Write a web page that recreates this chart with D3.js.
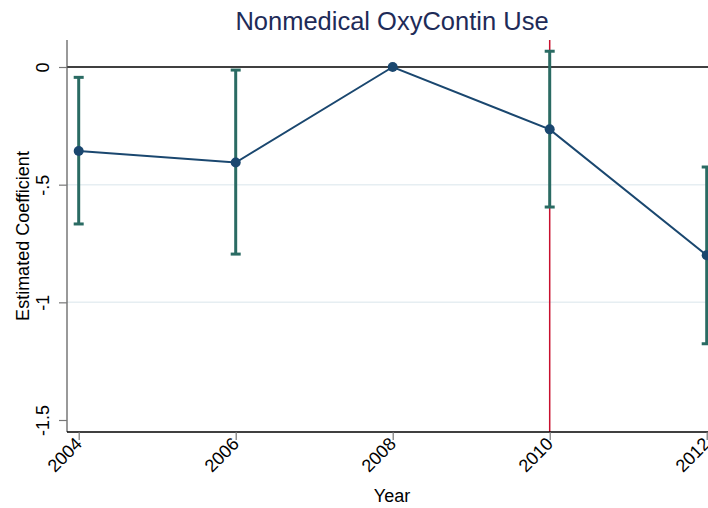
<!DOCTYPE html>
<html>
<head>
<meta charset="utf-8">
<script src="https://cdn.jsdelivr.net/npm/d3@7"></script>
<style>
  body { margin: 0; background: #fff; }
  svg { display: block; font-family: "Liberation Sans", Arial, sans-serif; }
</style>
</head>
<body>
<script>
let years = [2004, 2006, 2008, 2010, 2012];
let coef = [-0.357, -0.406, 0, -0.265, -0.80];
let ciLow = [-0.667, -0.795, 0, -0.595, -1.176];
let ciHigh = [-0.044, -0.013, 0, 0.067, -0.425];
let yTicks = [0, -0.5, -1, -1.5];
let yTickLabels = ['0', '-.5', '-1', '-1.5'];
let eventYear = 2010;

let W = 708, H = 508;
let plotLeft = 67, plotTop = 40, plotBottom = 432;

let svg = d3.select('body').append('svg')
  .attr('width', W)
  .attr('height', H)

let x = d3.scaleLinear().domain([2004, 2012]).range([78.7, 706.7])
let y = d3.scaleLinear().domain([0, -1.5]).range([67, 420])

// gridlines
svg.append('g')
  .selectAll('line')
  .data([-0.5, -1])
  .join('line')
  .attr('x1', plotLeft).attr('x2', W)
  .attr('y1', d => y(d)).attr('y2', d => y(d))
  .attr('stroke', '#e6eef2')
  .attr('stroke-width', 1.5)

// zero line
svg.append('line')
  .attr('x1', plotLeft).attr('x2', W)
  .attr('y1', y(0)).attr('y2', y(0))
  .attr('stroke', '#000')
  .attr('stroke-width', 1.5)

// event line
svg.append('line')
  .attr('x1', x(eventYear)).attr('x2', x(eventYear))
  .attr('y1', plotTop).attr('y2', plotBottom)
  .attr('stroke', '#c8102e')
  .attr('stroke-width', 1.5)

// axes
let yAxis = svg.append('g')
  .attr('transform', 'translate(' + plotLeft + ',0)')
  .call(d3.axisLeft(y).tickValues(yTicks).tickSize(8).tickFormat((d, i) => yTickLabels[i]))
yAxis.select('.domain').attr('d', 'M0,' + plotTop + 'V' + plotBottom).attr('stroke', '#555').attr('stroke-width', 1.2)
yAxis.selectAll('.tick line').attr('stroke', '#777').attr('stroke-width', 1.2)
yAxis.selectAll('.tick text')
  .attr('font-size', 18)
  .attr('fill', '#000')
  .attr('text-anchor', 'middle')
  .attr('transform', 'translate(-18,0) rotate(-90)')
  .attr('x', 0).attr('dy', 0).attr('y', 0)

let xAxis = svg.append('g')
  .attr('transform', 'translate(0,' + plotBottom + ')')
  .call(d3.axisBottom(x).tickValues(years).tickSize(8).tickFormat(d3.format('d')))
xAxis.select('.domain').attr('d', 'M' + plotLeft + ',0H' + W).attr('stroke', '#000').attr('stroke-width', 1.5)
xAxis.selectAll('.tick line').attr('stroke', '#777').attr('stroke-width', 1.2)
xAxis.selectAll('.tick text')
  .attr('font-size', 18)
  .attr('fill', '#000')
  .attr('text-anchor', 'end')
  .attr('y', 0).attr('dy', 0)
  .attr('transform', 'translate(4,13) rotate(-45)')

let pts = years.map((yr, i) => ({year: yr, c: coef[i], lo: ciLow[i], hi: ciHigh[i]}))

// error bars
let ci = svg.append('g').attr('stroke', '#2a6b63').attr('stroke-width', 3)
let bars = pts.filter(d => d.lo !== d.hi)
ci.selectAll('.bar').data(bars).join('line')
  .attr('class', 'bar')
  .attr('x1', d => x(d.year)).attr('x2', d => x(d.year))
  .attr('y1', d => y(d.lo)).attr('y2', d => y(d.hi))
ci.selectAll('.capL').data(bars).join('line')
  .attr('class', 'capL')
  .attr('x1', d => x(d.year) - 5).attr('x2', d => x(d.year) + 5)
  .attr('y1', d => y(d.lo)).attr('y2', d => y(d.lo))
ci.selectAll('.capH').data(bars).join('line')
  .attr('class', 'capH')
  .attr('x1', d => x(d.year) - 5).attr('x2', d => x(d.year) + 5)
  .attr('y1', d => y(d.hi)).attr('y2', d => y(d.hi))

// coefficient line
let line = d3.line()
  .x(d => x(d.year))
  .y(d => y(d.c))
svg.append('path')
  .attr('d', line(pts))
  .attr('fill', 'none')
  .attr('stroke', '#1a476f')
  .attr('stroke-width', 2)

svg.append('g')
  .selectAll('circle')
  .data(pts)
  .join('circle')
  .attr('cx', d => x(d.year))
  .attr('cy', d => y(d.c))
  .attr('r', 5)
  .attr('fill', '#1a476f')

// title and labels
svg.append('text')
  .attr('x', 392).attr('y', 30)
  .attr('text-anchor', 'middle')
  .attr('font-size', 25.5)
  .attr('fill', '#1e2b58')
  .text('Nonmedical OxyContin Use')

svg.append('text')
  .attr('x', 392).attr('y', 502)
  .attr('text-anchor', 'middle')
  .attr('font-size', 18)
  .text('Year')

svg.append('text')
  .attr('transform', 'translate(29,236) rotate(-90)')
  .attr('text-anchor', 'middle')
  .attr('font-size', 18)
  .text('Estimated Coefficient')
</script>
</body>
</html>
